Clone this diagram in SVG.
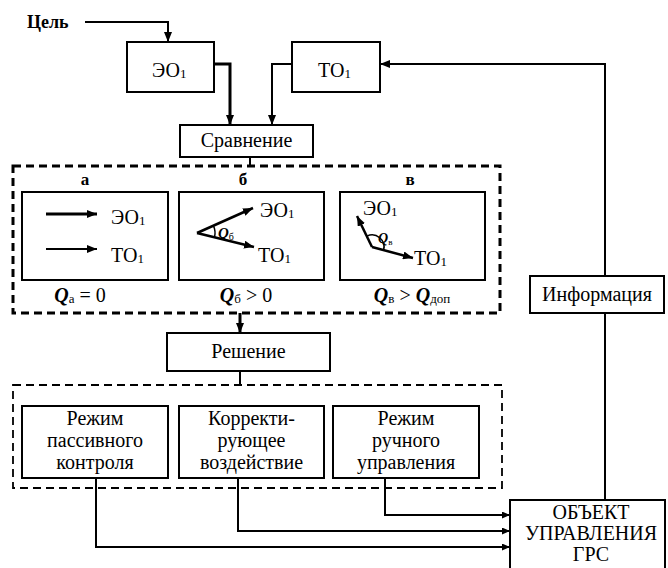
<svg xmlns="http://www.w3.org/2000/svg" width="668" height="568" viewBox="0 0 668 568" font-family="'Liberation Serif', 'Times New Roman', serif">
<defs>
<marker id="ah" markerWidth="10" markerHeight="8" refX="10" refY="4" orient="auto" markerUnits="userSpaceOnUse">
<path d="M0,0 L10,4 L0,8 Z" fill="#000"/>
</marker>
<marker id="ahs" markerWidth="8" markerHeight="7" refX="8" refY="3.5" orient="auto" markerUnits="userSpaceOnUse">
<path d="M0,0 L8,3.5 L0,7 Z" fill="#000"/>
</marker>
</defs>
<style>
.c{text-anchor:middle}
.box{fill:#fff;stroke:#000;stroke-width:2}
.ln{fill:none;stroke:#000;stroke-width:2}
.thk{fill:none;stroke:#000;stroke-width:3}
.dash1{fill:none;stroke:#000;stroke-width:3;stroke-dasharray:8 5}
.dash2{fill:none;stroke:#000;stroke-width:1.8;stroke-dasharray:8 5}
</style>
<rect width="668" height="568" fill="#fff"/>

<g id="connectors">
<path class="ln" d="M85,22 H168 V42" marker-end="url(#ah)"/>
<path class="thk" d="M214,64 H230 V125" marker-end="url(#ah)"/>
<path class="ln" d="M292,64 H272 V125" marker-end="url(#ah)"/>
<path class="ln" d="M250,157 V166"/>
<path class="thk" d="M240,313 V333" marker-end="url(#ah)"/>
<path class="ln" d="M240,371 V385"/>
<path class="ln" d="M96,478 V547 H510" marker-end="url(#ahs)"/>
<path class="ln" d="M238,478 V531 H510" marker-end="url(#ahs)"/>
<path class="ln" d="M385,478 V515 H510" marker-end="url(#ahs)"/>
<path class="ln" d="M605,500 V313"/>
<path class="ln" d="M605,276 V64 H380" marker-end="url(#ah)"/>
</g>

<g id="goal">
<text font-size="18" font-weight="bold" x="27" y="28">Цель</text>
</g>

<g id="eo1">
<rect class="box" x="127" y="42" width="87" height="50"/>
<text font-size="20" x="152" y="77">ЭО<tspan font-size="13" dy="1">1</tspan></text>
</g>

<g id="to1">
<rect class="box" x="292" y="42" width="88" height="50"/>
<text font-size="20" x="318" y="77">ТО<tspan font-size="13" dy="1">1</tspan></text>
</g>

<g id="compare">
<rect class="box" x="180" y="125" width="133" height="32"/>
<text font-size="20" class="c" x="246.5" y="147">Сравнение</text>
</g>

<g id="cases">
<rect class="dash1" x="13" y="166" width="487" height="147"/>
<text font-size="17" font-weight="bold" class="c" x="85" y="185">а</text>
<text font-size="17" font-weight="bold" class="c" x="243" y="185">б</text>
<text font-size="17" font-weight="bold" class="c" x="410" y="185">в</text>

<rect class="box" x="22" y="192" width="146" height="88"/>
<line x1="46" y1="214" x2="97" y2="214" stroke="#000" stroke-width="3" marker-end="url(#ah)"/>
<line x1="46" y1="249" x2="97" y2="249" stroke="#000" stroke-width="2" marker-end="url(#ah)"/>
<text font-size="20" x="111" y="224">ЭО<tspan font-size="13" dy="1">1</tspan></text>
<text font-size="20" x="111" y="262">ТО<tspan font-size="13" dy="1">1</tspan></text>

<rect class="box" x="179" y="192" width="145" height="88"/>
<line x1="197" y1="233" x2="253" y2="208" stroke="#000" stroke-width="2.5" marker-end="url(#ah)"/>
<line x1="197" y1="233" x2="254" y2="247" stroke="#000" stroke-width="2.5" marker-end="url(#ah)"/>
<path d="M213.4,225.6 A18,18 0 0 1 214.5,237.4" fill="none" stroke="#000" stroke-width="1.5"/>
<text font-size="15" font-style="italic" font-weight="bold" x="218" y="238">Q<tspan font-size="10" font-style="normal" font-weight="normal" dy="2">б</tspan></text>
<text font-size="20" x="260" y="217">ЭО<tspan font-size="13" dy="1">1</tspan></text>
<text font-size="20" x="258" y="262">ТО<tspan font-size="13" dy="1">1</tspan></text>

<rect class="box" x="340" y="192" width="145" height="88"/>
<line x1="372" y1="247" x2="357" y2="216" stroke="#000" stroke-width="2.5" marker-end="url(#ah)"/>
<line x1="372" y1="247" x2="413" y2="258" stroke="#000" stroke-width="2.5" marker-end="url(#ah)"/>
<path d="M366.9,236.1 A12,12 0 0 1 383.6,250.1" fill="none" stroke="#000" stroke-width="1.5"/>
<text font-size="14" font-style="italic" font-weight="bold" x="378" y="243">Q<tspan font-size="9" font-style="normal" font-weight="normal" dy="2">в</tspan></text>
<text font-size="20" x="363" y="215">ЭО<tspan font-size="13" dy="1">1</tspan></text>
<text font-size="20" x="414" y="265">ТО<tspan font-size="13" dy="1">1</tspan></text>

<text font-size="20" class="c" x="80" y="302"><tspan font-style="italic" font-weight="bold">Q</tspan><tspan font-size="13" dy="1">а</tspan><tspan dy="-1"> = 0</tspan></text>
<text font-size="20" class="c" x="246" y="302"><tspan font-style="italic" font-weight="bold">Q</tspan><tspan font-size="13" dy="1">б</tspan><tspan dy="-1"> &gt; 0</tspan></text>
<text font-size="20" class="c" x="412" y="302"><tspan font-style="italic" font-weight="bold">Q</tspan><tspan font-size="13" dy="1">в</tspan><tspan dy="-1"> &gt; </tspan><tspan font-style="italic" font-weight="bold">Q</tspan><tspan font-size="13" dy="1">доп</tspan></text>
</g>

<g id="decision">
<rect class="box" x="167" y="333" width="163" height="38"/>
<text font-size="20" class="c" x="248.5" y="358">Решение</text>
</g>

<g id="modes">
<rect class="dash2" x="13" y="385" width="489" height="103"/>
</g>

<g id="passive">
<rect class="box" x="22" y="406" width="146" height="72"/>
<text font-size="20" class="c" x="95" y="425">Режим</text>
<text font-size="20" class="c" x="95" y="447">пассивного</text>
<text font-size="20" class="c" x="95" y="469">контроля</text>
</g>

<g id="corrective">
<rect class="box" x="179" y="406" width="145" height="72"/>
<text font-size="20" class="c" x="251.5" y="425">Корректи-</text>
<text font-size="20" class="c" x="251.5" y="447">рующее</text>
<text font-size="20" class="c" x="251.5" y="469">воздействие</text>
</g>

<g id="manual">
<rect class="box" x="333" y="406" width="146" height="72"/>
<text font-size="20" class="c" x="406" y="425">Режим</text>
<text font-size="20" class="c" x="406" y="447">ручного</text>
<text font-size="20" class="c" x="406" y="469">управления</text>
</g>

<g id="info">
<rect class="box" x="530" y="276" width="134" height="37"/>
<text font-size="20" class="c" x="597" y="301">Информация</text>
</g>

<g id="object">
<rect class="box" x="510" y="500" width="155" height="80"/>
<text font-size="20" class="c" x="591" y="519">ОБЪЕКТ</text>
<text font-size="20" class="c" x="591" y="540">УПРАВЛЕНИЯ</text>
<text font-size="20" class="c" x="591" y="561">ГРС</text>
</g>
</svg>
